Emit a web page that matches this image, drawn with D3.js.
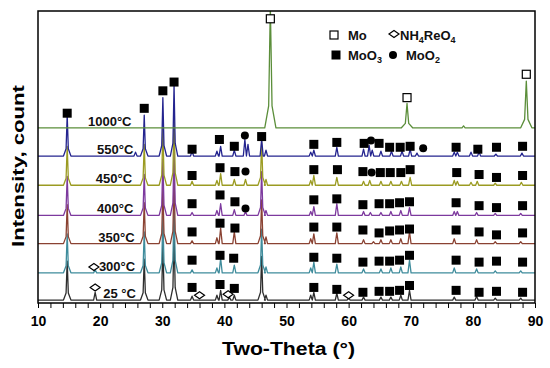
<!DOCTYPE html>
<html lang="en">
<head>
<meta charset="utf-8">
<title>XRD patterns</title>
<style>
  body { margin: 0; background: #fff; }
  svg { display: block; font-family: Arial, "Liberation Sans", sans-serif; font-weight: bold; }
  .frame { fill: none; stroke: #000; stroke-width: 1.5; }
  .trace { fill: none; stroke-width: 1.3; stroke-linejoin: round; }
  .axis path { display: none; }
  .axis line { stroke: #000; stroke-width: 1; }
  .axis text { font-size: 14px; font-weight: bold; fill: #000; font-family: Arial, "Liberation Sans", sans-serif; }
  .tlabel { font-size: 13px; fill: #111; }
  .legend { font-size: 13px; fill: #111; }
</style>
</head>
<body>
<svg id="chart" width="550" height="368"></svg>
<script src="https://d3js.org/d3.v7.min.js"></script>
<script>
// samples, bottom to top
const samples = ["25 °C", "300°C", "350°C", "400°C", "450°C", "550°C", "1000°C"];
const offsets = [3, 31, 61, 90, 121, 151, 180];
const colors = ["#2e2e2e", "#3f8c9c", "#8a4232", "#7d3a9e", "#9b9b22", "#24248f", "#5b8e3a"];
const labelX = [20.5, 19.8, 19.7, 19.5, 19.3, 19.5, 18.05];

// peaks: [two-theta, height above trace baseline]
const p25 = [[14.7,40],[19.2,8],[27.1,42],[30.1,58],[31.9,72],[34.8,4],[38.8,5],[39.4,10],[40.8,3],[41.6,5],
  [46.0,45],[46.7,5],[53.9,5],[54.4,8],[58.1,7],[60.0,2],[62.4,3],[65.2,3],[66.8,3],[68.4,5],[69.8,10],
  [77.0,3],[80.6,4],[83.6,2],[87.7,2]];
const p300 = [[14.7,40],[19.2,3],[27.1,42],[30.1,58],[31.9,72],[34.8,3],[38.8,5],[39.4,15],[41.6,8],
  [46.0,45],[46.7,6],[53.9,5],[54.4,11],[58.1,9],[62.4,4],[65.2,4],[66.8,5],[68.4,6],[69.8,13],
  [77.0,5],[80.6,4],[83.6,2],[87.7,2]];
const p350 = [[14.7,40],[27.1,42],[30.1,58],[31.9,72],[34.8,3],[38.8,6],[39.4,16],[41.6,12],
  [46.0,45],[46.7,7],[53.9,5],[54.4,10],[58.1,11],[62.4,4],[64.0,2],[65.2,4],[66.8,4],[68.4,5],[69.8,12],
  [77.0,5],[80.6,4],[83.6,2],[87.7,2]];
const p400 = [[14.7,40],[27.1,42],[30.1,58],[31.9,72],[34.8,3],[38.8,5],[39.4,12],[41.6,6],[43.4,4],
  [46.0,45],[46.7,5],[53.9,4],[54.4,9],[58.1,12],[62.4,4],[63.5,3],[65.2,3],[66.8,4],[68.4,5],[69.8,8],
  [77.0,4],[77.5,4],[80.6,3],[83.6,2],[87.7,2]];
const p450 = [[14.7,40],[27.1,42],[30.1,58],[31.9,72],[34.8,4],[38.8,5],[39.4,12],[41.6,6],[43.4,6],
  [46.0,45],[46.7,6],[53.9,5],[54.4,10],[58.1,8],[62.4,4],[63.4,5],[65.2,4],[66.8,4],[68.5,4],[69.9,8],
  [77.0,5],[77.5,4],[79.7,3],[80.7,4],[83.6,2],[87.8,3]];
const p550 = [[14.7,42],[25.7,4],[27.1,42],[30.1,60],[31.9,73],[34.8,5],[38.8,5],[39.4,10],[41.6,6],
  [43.3,17],[43.8,12],[46.0,17],[46.7,6],[53.9,4],[54.4,6],[58.1,9],[62.4,7],[63.3,11],[63.8,6],
  [65.2,5],[66.9,5],[68.6,5],[69.9,7],[71.0,3],[77.0,4],[77.5,4],[79.7,4],[81.0,4],[83.7,2],[87.9,3]];
const p1000 = [[47.4,125],[69.4,25],[78.5,2],[88.6,48]];
const peaks = [p25, p300, p350, p400, p450, p550, p1000];

// phase markers: [two-theta, height above trace baseline, kind]
// s = MoO3, c = MoO2, d = NH4ReO4, o = Mo
const m25 = [[19.2,13,"d"],[34.8,13,"s"],[36.0,5,"d"],[39.3,16,"s"],[40.6,6,"d"],[41.6,12,"s"],
  [54.4,13,"s"],[58.1,11,"s"],[60.0,5,"d"],[62.3,8,"s"],[64.9,9,"s"],[66.6,9,"s"],[68.2,10,"s"],
  [69.8,15,"s"],[77.3,10,"s"],[81.0,8,"s"],[83.8,9,"s"],[88.0,8,"s"]];
const m300 = [[19.0,6,"d"],[34.8,13,"s"],[39.3,18,"s"],[41.5,15,"s"],[54.4,16,"s"],[58.1,15,"s"],
  [62.3,11,"s"],[64.9,12,"s"],[66.6,12,"s"],[68.2,13,"s"],[69.8,18,"s"],[77.3,13,"s"],[81.0,11,"s"],
  [83.8,12,"s"],[88.0,11,"s"]];
const m350 = [[34.8,12,"s"],[39.3,21,"s"],[41.7,16,"s"],[54.4,17,"s"],[58.1,17,"s"],[62.3,14,"s"],
  [64.9,11,"s"],[66.6,13,"s"],[68.2,14,"s"],[69.8,15,"s"],[77.3,14,"s"],[81.0,12,"s"],[83.8,9,"s"],
  [88.0,11,"s"]];
const m400 = [[34.8,12,"s"],[39.3,21,"s"],[41.7,14,"s"],[43.4,7,"c"],[54.4,16,"s"],[58.1,17,"s"],
  [62.3,11,"s"],[64.9,12,"s"],[66.6,12,"s"],[68.2,13,"s"],[69.8,14,"s"],[77.3,13,"s"],[81.0,10,"s"],
  [83.8,8,"s"],[88.0,10,"s"]];
const m450 = [[34.8,10,"s"],[39.3,18,"s"],[41.7,14,"s"],[43.4,14,"c"],[54.4,16,"s"],[58.2,16,"s"],
  [62.3,14,"s"],[63.7,13,"c"],[65.1,13,"s"],[66.7,13,"s"],[68.4,13,"s"],[69.9,16,"s"],[77.4,13,"s"],
  [81.0,11,"s"],[83.8,8,"s"],[88.0,10,"s"]];
const m550 = [[14.7,44,"s"],[27.1,49,"s"],[30.1,67,"s"],[31.9,76,"s"],[34.8,7,"s"],[39.2,17,"s"],
  [41.6,10,"s"],[43.3,21,"c"],[46.0,20,"s"],[54.4,12,"s"],[58.1,14,"s"],[62.5,13,"s"],[63.6,16,"c"],
  [64.9,13,"s"],[66.6,9,"s"],[68.3,9,"s"],[69.9,10,"s"],[72.0,8,"c"],[77.3,9,"s"],[80.8,7,"s"],
  [83.8,9,"s"],[88.0,10,"s"]];
const m1000 = [[47.4,112,"o"],[69.4,31,"o"],[88.6,55,"o"]];
const markers = [m25, m300, m350, m400, m450, m550, m1000];

const xTickLabels = [10, 20, 30, 40, 50, 60, 70, 80, 90];

const svg = d3.select("#chart");
const plotL = 38, plotR = 535, plotT = 11, plotB = 303;

const x = d3.scaleLinear().domain([10, 90]).range([plotL, plotR]);
const y = d3.scaleLinear().domain([0, 300]).range([plotB, plotT]);

svg.append("clipPath").attr("id", "plotclip")
  .append("rect")
  .attr("x", plotL).attr("y", plotT)
  .attr("width", plotR - plotL).attr("height", plotB - plotT);

// x axis with minor ticks every 2 degrees
svg.append("g")
  .attr("class", "axis")
  .attr("transform", "translate(0," + plotB + ")")
  .call(d3.axisBottom(x)
    .tickValues(d3.range(10, 91, 2))
    .tickSize(5)
    .tickPadding(8)
    .tickFormat(d => xTickLabels.includes(d) ? d : ""));

// traces; the big reflections get a wider foot
const line = d3.line().x(d => x(d[0])).y(d => d[1]);
const plot = svg.append("g").attr("clip-path", "url(#plotclip)");

peaks.forEach((pk, i) => {
  const base = y(offsets[i]);
  const pts = [[10, base]];
  pk.forEach(([p, h]) => {
    if (h >= 20) {
      const w = i === 6 ? 0.9 : 0.6;
      pts.push([p - w, base], [p - w * 0.3, y(offsets[i] + h * 0.18)], [p, y(offsets[i] + h)],
        [p + w * 0.3, y(offsets[i] + h * 0.18)], [p + w, base]);
    } else {
      pts.push([p - 0.25, base], [p, y(offsets[i] + h)], [p + 0.25, base]);
    }
  });
  pts.push([90, base]);
  plot.append("path")
    .attr("class", "trace")
    .attr("stroke", colors[i])
    .attr("d", line(pts));
});

// sample labels
svg.selectAll(".tlabel")
  .data(samples)
  .enter()
  .append("text")
  .attr("class", "tlabel")
  .attr("x", (d, i) => x(labelX[i]))
  .attr("y", (d, i) => y(offsets[i] + 2))
  .text(d => d);

// phase markers
function drawMarker(g, kind, cx, cy) {
  if (kind === "s") {
    g.append("rect").attr("x", cx - 4.5).attr("y", cy - 4.5)
      .attr("width", 9).attr("height", 9).attr("fill", "#000");
  } else if (kind === "c") {
    g.append("circle").attr("cx", cx).attr("cy", cy).attr("r", 4).attr("fill", "#000");
  } else if (kind === "d") {
    g.append("path")
      .attr("d", "M" + (cx - 5) + "," + cy + "L" + cx + "," + (cy - 3.5) + "L" + (cx + 5) + "," + cy +
        "L" + cx + "," + (cy + 3.5) + "Z")
      .attr("fill", "#fff").attr("stroke", "#000").attr("stroke-width", 1.2);
  } else {
    g.append("rect").attr("x", cx - 4).attr("y", cy - 4)
      .attr("width", 8).attr("height", 8)
      .attr("fill", "#fff").attr("stroke", "#000").attr("stroke-width", 1.2);
  }
}

const mg = svg.append("g");
markers.forEach((ms, i) => {
  ms.forEach(([p, h, kind]) => drawMarker(mg, kind, x(p), y(offsets[i] + h)));
});

// frame
svg.append("rect")
  .attr("class", "frame")
  .attr("x", plotL).attr("y", plotT)
  .attr("width", plotR - plotL).attr("height", plotB - plotT);

// legend
const lg = svg.append("g");
drawMarker(lg, "o", 334, 35);
lg.append("text").attr("class", "legend").attr("x", 348).attr("y", 40).text("Mo");
drawMarker(lg, "d", 394, 34);
const nh = lg.append("text").attr("class", "legend").attr("x", 400).attr("y", 40);
nh.append("tspan").text("NH");
nh.append("tspan").attr("font-size", 9).attr("dy", 3).text("4");
nh.append("tspan").attr("dy", -3).text("ReO");
nh.append("tspan").attr("font-size", 9).attr("dy", 3).text("4");
drawMarker(lg, "s", 336, 55);
const mo3 = lg.append("text").attr("class", "legend").attr("x", 348).attr("y", 60);
mo3.append("tspan").text("MoO");
mo3.append("tspan").attr("font-size", 9).attr("dy", 3).text("3");
drawMarker(lg, "c", 393, 55);
const mo2 = lg.append("text").attr("class", "legend").attr("x", 406).attr("y", 60);
mo2.append("tspan").text("MoO");
mo2.append("tspan").attr("font-size", 9).attr("dy", 3).text("2");

// axis titles
svg.append("text")
  .attr("x", 222).attr("y", 355)
  .attr("font-size", 18)
  .attr("textLength", 133).attr("lengthAdjust", "spacingAndGlyphs")
  .text("Two-Theta  (°)");

svg.append("text")
  .attr("transform", "translate(24,166) rotate(-90)")
  .attr("text-anchor", "middle")
  .attr("font-size", 17)
  .attr("textLength", 162).attr("lengthAdjust", "spacingAndGlyphs")
  .text("Intensity,  count");
</script>
</body>
</html>
